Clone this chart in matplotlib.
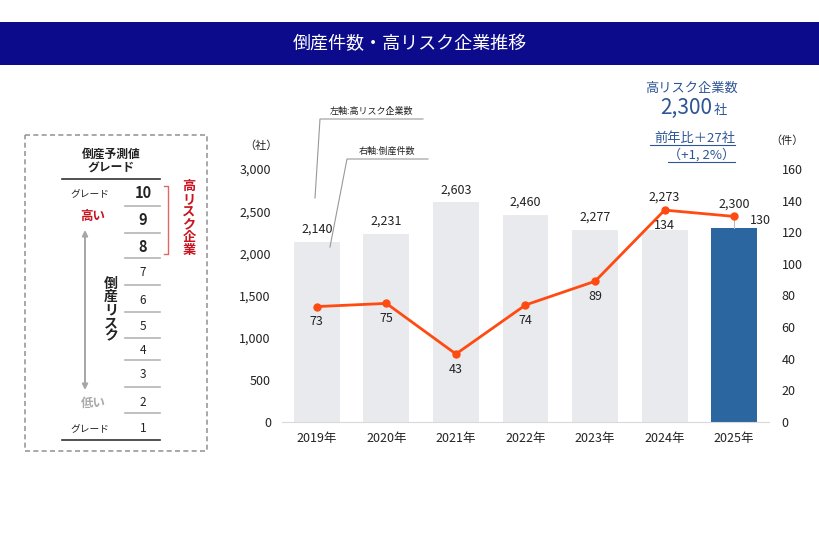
'''
倒産件数・高リスク企業推移 chart
'''
import matplotlib
matplotlib.use('Agg')
import matplotlib.pyplot as plt
from matplotlib.patches import Rectangle

plt.rcParams['font.family'] = ['Noto Sans CJK JP', 'DejaVu Sans']

# --------------------------------
years      = ['2019年', '2020年', '2021年', '2022年', '2023年', '2024年', '2025年']
high_risk  = [2140, 2231, 2603, 2460, 2277, 2273, 2300]
bankrupt   = [73, 75, 43, 74, 89, 134, 130]
left_ticks = [0, 500, 1000, 1500, 2000, 2500, 3000]
right_ticks= [0, 20, 40, 60, 80, 100, 120, 140, 160]
grades     = ['10', '9', '8', '7', '6', '5', '4', '3', '2', '1']

BAR_GRAY = '#e8eaed'
BAR_BLUE = '#2b66a0'
LINE_COL = '#ff4a12'
NAVY     = '#0b0b8c'
BLUE_TXT = '#2e5597'
RED_TXT  = '#c8141e'
TXT      = '#222222'
# --------------------------------
def _vtext(ax, x, y0, step, s, **kw):
    for i, ch in enumerate(s):
        ax.text(x, y0 + i * step, ch, ha='center', va='center', **kw)
# --------------------------------
def _main_chart(fig):
    ax  = fig.add_axes([282 / 820, 124 / 546, 487 / 820, 253 / 546])
    ax2 = ax.twinx()

    xs     = list(range(len(years)))
    colors = [BAR_GRAY] * (len(years) - 1) + [BAR_BLUE]
    ax.bar(xs, high_risk, width=0.66, color=colors, zorder=2)
    ax.set_xlim(-0.5, len(years) - 0.5)
    ax.set_ylim(0, 3000)
    ax2.set_ylim(0, 160)

    ax.set_yticks(left_ticks)
    ax.set_yticklabels([f'{v:,}' for v in left_ticks])
    ax2.set_yticks(right_ticks)
    ax.set_xticks(xs)
    ax.set_xticklabels(years)

    ax.tick_params(axis='y', length=0, pad=8, labelsize=9, labelcolor=TXT)
    ax.tick_params(axis='x', length=0, pad=7, labelsize=9, labelcolor=TXT)
    ax2.tick_params(axis='y', length=0, pad=9, labelsize=9, labelcolor=TXT)

    for sp in ['top', 'right', 'left']:
        ax.spines[sp].set_visible(False)
    ax.spines['bottom'].set_color('#d9d9d9')
    for sp in ax2.spines.values():
        sp.set_visible(False)

    ax2.plot(xs, bankrupt, color=LINE_COL, lw=2, marker='o', markersize=5, zorder=3)

    scale = 3000 / 160
    for i, (h, b) in enumerate(zip(high_risk, bankrupt)):
        top = max(h, b * scale) if i >= 5 else h
        ax.annotate(f'{h:,}', (i, top), xytext=(0, 9), textcoords='offset points',
                    ha='center', va='center', fontsize=9, color=TXT)
        if i == len(years) - 1:
            ax2.plot([i, i], [h / scale, b], color='#bbbbbb', lw=0.8, zorder=1)
            ax2.annotate(f'{b}', (i, b), xytext=(11, -3), textcoords='offset points',
                         ha='left', va='center', fontsize=9, color=TXT)
        else:
            ax2.annotate(f'{b}', (i, b), xytext=(0, -11), textcoords='offset points',
                         ha='center', va='center', fontsize=9, color=TXT)
    return ax
# --------------------------------
def _overlay(fig):
    ov = fig.add_axes([0, 0, 1, 1])
    ov.set_xlim(0, 820)
    ov.set_ylim(546, 0)
    ov.axis('off')

    # title banner
    ov.add_patch(Rectangle((0, 22), 820, 43, color=NAVY, lw=0))
    ov.text(410, 44, '倒産件数・高リスク企業推移', ha='center', va='center',
            color='white', fontsize=13)

    # axis units
    ov.text(261, 146, '（社）', ha='center', va='center', fontsize=8, color=TXT)
    ov.text(787, 141, '（件）', ha='center', va='center', fontsize=8, color=TXT)

    # callouts
    ov.text(372, 111, '左軸:高リスク企業数', ha='center', va='center', fontsize=6.5, color=TXT)
    ov.plot([423, 320, 315], [119, 119, 198], color='#999999', lw=0.8)
    ov.text(387, 151, '右軸:倒産件数', ha='center', va='center', fontsize=6.5, color=TXT)
    ov.plot([428, 347, 330], [159, 159, 247], color='#999999', lw=0.8)

    # top right summary
    ov.text(692, 88, '高リスク企業数', ha='center', va='center', fontsize=9.5, color=BLUE_TXT)
    ov.text(712, 114, '2,300', ha='right', va='baseline', fontsize=15, color=BLUE_TXT)
    ov.text(714, 114, '社', ha='left', va='baseline', fontsize=9.5, color=BLUE_TXT)
    ov.text(735, 138, '前年比＋27社', ha='right', va='center', fontsize=9.5, color=BLUE_TXT)
    ov.plot([650, 735], [145, 145], color=BLUE_TXT, lw=0.8)
    ov.text(735, 155, '（+1, 2%）', ha='right', va='center', fontsize=9.5, color=BLUE_TXT)
    ov.plot([668, 735], [162, 162], color=BLUE_TXT, lw=0.8)

    # left grade box
    ov.add_patch(Rectangle((25, 135), 182, 316, fill=False, ec='#999999',
                           lw=1.2, ls=(0, (3, 2))))
    ov.text(111, 154, '倒産予測値', ha='center', va='center', fontsize=8.5,
            fontweight='bold', color=TXT)
    ov.text(111, 168, 'グレード', ha='center', va='center', fontsize=8.5,
            fontweight='bold', color=TXT)
    ov.plot([62, 160], [179, 179], color='#333333', lw=1.2)
    ov.plot([62, 160], [440, 440], color='#333333', lw=1.2)

    row_y = [193, 220, 247, 273, 300, 327, 350, 375, 402, 428]
    sep_y = [206, 233, 258, 285, 312, 338, 360, 387, 413]
    for g, y in zip(grades, row_y):
        big = int(g) >= 8
        ov.text(143, y, g, ha='center', va='center', fontsize=10.5 if big else 8.5,
                fontweight='bold' if big else 'normal', color=TXT)
    for y in sep_y:
        ov.plot([125, 160], [y, y], color='#b5b5b5', lw=1.2)

    ov.text(90, 193, 'グレード', ha='center', va='center', fontsize=7, color=TXT)
    ov.text(90, 428, 'グレード', ha='center', va='center', fontsize=7, color=TXT)
    ov.text(93, 216, '高い', ha='center', va='center', fontsize=9, fontweight='bold', color=RED_TXT)
    ov.text(93, 403, '低い', ha='center', va='center', fontsize=9, fontweight='bold', color='#aaaaaa')
    ov.annotate('', xy=(85, 230), xytext=(85, 390),
                arrowprops=dict(arrowstyle='<|-|>', color='#a6a6a6', lw=1.4,
                                shrinkA=0, shrinkB=0, mutation_scale=8))
    _vtext(ov, 111, 284, 13, '倒産リスク', fontsize=10, fontweight='bold', color=TXT)

    ov.plot([164, 168, 168, 164], [186, 186, 254, 254], color='#e06666', lw=1)
    _vtext(ov, 189, 186, 12.8, '高リスク企業', fontsize=9.5, fontweight='bold', color=RED_TXT)
# --------------------------------
def main():
    '''
    Start here
    '''
    fig = plt.figure(figsize=(8.2, 5.46), dpi=100)
    fig.patch.set_facecolor('white')
    _main_chart(fig)
    _overlay(fig)
    fig.savefig('out.png', dpi=100)
    plt.close(fig)
# --------------------------------
if __name__ == '__main__':
    main()
